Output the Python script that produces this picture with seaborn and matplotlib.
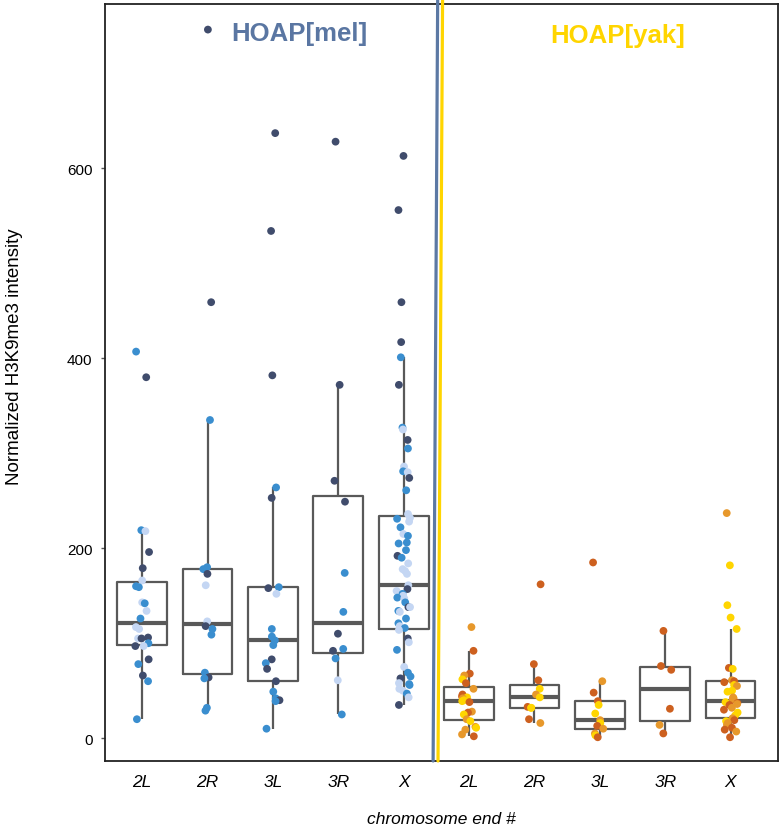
import matplotlib
matplotlib.use("Agg")
import matplotlib.pyplot as plt
import numpy as np
import pandas as pd
import seaborn as sns

# chromosome ends, same for both strains
ends = ["2L", "2R", "3L", "3R", "X"]

# HOAP[mel] values; shade 0 = dark, 1 = mid blue, 2 = light blue
mel_2L = [407, 380, 219, 218, 196, 179, 166, 160, 159, 143, 142, 134, 126,
          117, 115, 106, 105, 105, 100, 97, 97, 83, 78, 66, 60, 20]
mel_2L_shade = [1, 0, 1, 2, 0, 0, 2, 1, 1, 2, 1, 2, 1,
                2, 2, 0, 2, 0, 1, 0, 2, 0, 1, 0, 1, 1]
mel_2R = [746, 459, 335, 180, 178, 173, 161, 123, 118, 115, 109, 69, 64, 63, 32, 29]
mel_2R_shade = [0, 0, 1, 1, 1, 0, 2, 2, 0, 1, 1, 1, 0, 1, 1, 1]
mel_3L = [637, 534, 382, 264, 253, 159, 158, 152, 115, 107, 103, 98, 83, 79,
          73, 60, 49, 42, 40, 39, 10]
mel_3L_shade = [0, 0, 0, 1, 0, 1, 0, 2, 1, 1, 1, 1, 0, 1, 0, 0, 1, 1, 0, 1, 1]
mel_3R = [628, 372, 271, 249, 174, 133, 110, 94, 92, 84, 61, 25]
mel_3R_shade = [0, 0, 0, 0, 1, 1, 0, 1, 0, 1, 2, 1]
mel_X = [613, 556, 459, 417, 401, 372, 327, 325, 314, 305, 286, 281, 280, 274,
         261, 236, 232, 231, 228, 222, 215, 213, 206, 205, 198, 192, 190, 184,
         178, 176, 173, 161, 157, 155, 152, 150, 148, 147, 143, 138, 138, 134,
         133, 126, 121, 118, 116, 114, 105, 101, 93, 75, 69, 65, 63, 58, 57,
         56, 52, 50, 47, 43, 35]
mel_X_shade = [0, 0, 0, 0, 1, 0, 1, 2, 0, 1, 2, 1, 2, 0,
               1, 2, 2, 1, 2, 1, 2, 1, 1, 1, 1, 0, 1, 2,
               2, 2, 2, 2, 0, 2, 1, 2, 1, 2, 1, 0, 2, 1,
               2, 1, 1, 2, 1, 2, 0, 2, 1, 2, 1, 1, 0, 2, 1,
               1, 2, 2, 1, 2, 0]

# HOAP[yak] values; shade 0 = dark orange, 1 = orange, 2 = yellow
yak_2L = [117, 92, 68, 66, 62, 58, 52, 46, 44, 43, 42, 40, 39, 38, 28, 27,
          25, 20, 18, 12, 11, 9, 4, 2]
yak_2L_shade = [1, 0, 0, 1, 2, 0, 1, 0, 0, 2, 1, 2, 2, 0, 1, 0,
                2, 1, 2, 1, 2, 1, 1, 0]
yak_2R = [162, 78, 61, 52, 46, 43, 33, 32, 32, 20, 16]
yak_2R_shade = [0, 0, 0, 2, 1, 2, 0, 2, 2, 0, 1]
yak_3L = [185, 60, 48, 39, 35, 26, 19, 16, 13, 10, 5, 3, 1]
yak_3L_shade = [0, 1, 0, 0, 2, 2, 1, 2, 0, 1, 1, 2, 0]
yak_3R = [113, 76, 72, 31, 14, 5]
yak_3R_shade = [0, 0, 0, 0, 1, 0]
yak_X = [237, 182, 140, 127, 115, 74, 73, 61, 60, 59, 56, 55, 50, 49, 43, 42,
         41, 38, 37, 36, 35, 32, 30, 27, 24, 21, 19, 18, 16, 14, 11, 9, 7, 1]
yak_X_shade = [1, 2, 2, 2, 2, 0, 2, 1, 0, 0, 2, 1, 2, 2, 1, 1,
               1, 2, 0, 1, 0, 1, 0, 2, 2, 1, 0, 2, 1, 1, 0, 0, 1, 0]

mel_colors = ["#404c6c", "#3a8ecf", "#c4d6f3"]
yak_colors = ["#cd601f", "#e7982b", "#ffd500"]

mel_series = [(mel_2L, mel_2L_shade), (mel_2R, mel_2R_shade), (mel_3L, mel_3L_shade),
              (mel_3R, mel_3R_shade), (mel_X, mel_X_shade)]
yak_series = [(yak_2L, yak_2L_shade), (yak_2R, yak_2R_shade), (yak_3L, yak_3L_shade),
              (yak_3R, yak_3R_shade), (yak_X, yak_X_shade)]

rows = []
for strain, series in (("mel", mel_series), ("yak", yak_series)):
    for end, (vals, shades) in zip(ends, series):
        for v, s in zip(vals, shades):
            rows.append((f"{strain} {end}", v, f"{strain}{s}"))
df = pd.DataFrame(rows, columns=["group", "intensity", "shade"])
order = [f"{s} {e}" for s in ("mel", "yak") for e in ends]
palette = {f"mel{i}": c for i, c in enumerate(mel_colors)}
palette.update({f"yak{i}": c for i, c in enumerate(yak_colors)})

sns.set_theme(style="white")
plt.rcParams['font.family'] = ['Liberation Sans', 'DejaVu Sans']

fig = plt.figure(figsize=(7.83, 8.37), dpi=100)
ax = fig.add_axes([0.134, 0.0896, 0.860, 0.9045])

sns.boxplot(data=df, x="group", y="intensity", order=order, showfliers=False,
            showcaps=False, width=0.76, fill=False, color="#595959", linewidth=1.6,
            medianprops={"linewidth": 3}, ax=ax, zorder=1)
np.random.seed(7)
sns.stripplot(data=df, x="group", y="intensity", hue="shade", order=order,
              palette=palette, jitter=0.11, size=5.6, linewidth=0, legend=False,
              ax=ax, zorder=3)

ax.set_xlim(-0.57, 9.73)
ax.set_ylim(-24, 773)

# slanted divider between the two strains
ax.plot([4.45, 4.52], [-24, 780], color="#5c79a4", lw=2.3, clip_on=False, zorder=4)
ax.plot([4.525, 4.595], [-24, 780], color="#ffd500", lw=2.3, clip_on=False, zorder=4)

ax.text(2.40, 742, "HOAP[mel]", color="#5a76a2", fontsize=18.5, fontweight="bold",
        ha="center", va="center")
ax.text(7.28, 740, "HOAP[yak]", color="#ffd500", fontsize=18.5, fontweight="bold",
        ha="center", va="center")

ax.set_yticks([0, 200, 400, 600])
ax.set_xticks(range(10))
ax.set_xticklabels(ends + ends, fontsize=12.5, style="italic")
ax.tick_params(axis="x", length=0, pad=9, labelcolor="black")
ax.tick_params(axis="y", length=3, width=1, color="#555555", labelsize=11, pad=6,
               left=True, labelcolor="black")

ax.set_xlabel("chromosome end #", fontsize=12.5, style="italic", labelpad=16, color="black")
ax.set_ylabel("Normalized H3K9me3 intensity", fontsize=13.5, color="black")
ax.yaxis.set_label_coords(-0.122, 0.535)

for sp in ax.spines.values():
    sp.set_color("#222222")
    sp.set_linewidth(1.3)

fig.savefig("out.png", dpi=100)
